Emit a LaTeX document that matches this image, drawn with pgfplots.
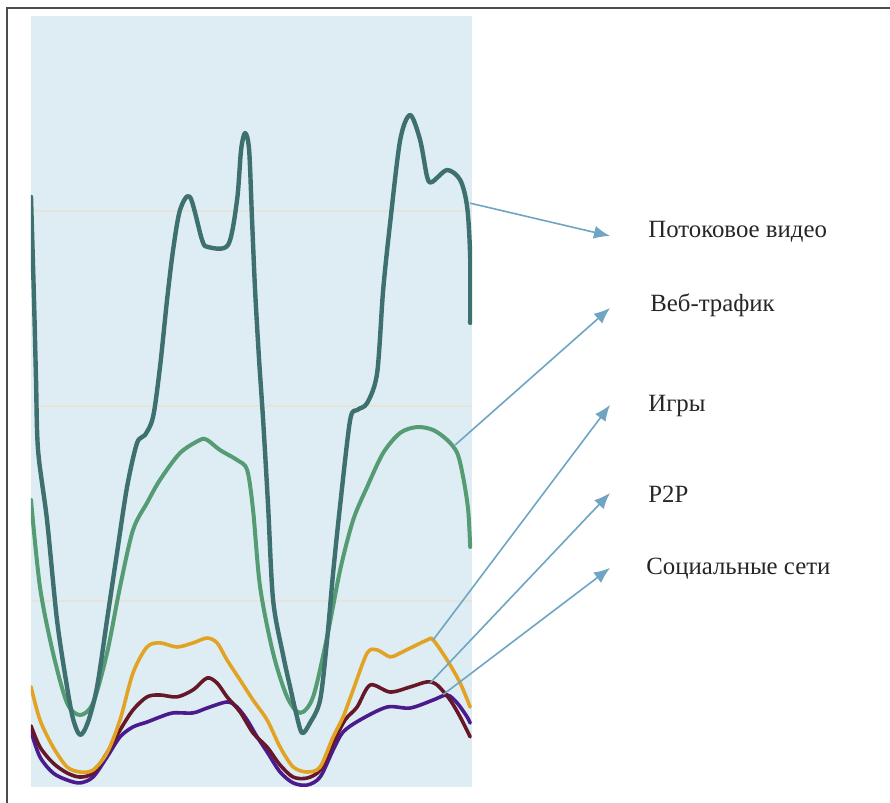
\documentclass[border=0pt]{standalone}
\usepackage{pgfplots}
\pgfplotsset{compat=1.18}
\usetikzlibrary{arrows.meta}
\usepackage{fontspec}
\setmainfont{Liberation Serif}
\definecolor{panel}{HTML}{DDEDF3}
\definecolor{gridc}{HTML}{E6E4DA}
\definecolor{cstream}{HTML}{3E7070}
\definecolor{cweb}{HTML}{559B74}
\definecolor{cgame}{HTML}{E2A324}
\definecolor{cp2p}{HTML}{661828}
\definecolor{csoc}{HTML}{4B1A8C}
\definecolor{carrow}{HTML}{6FA5C3}

\pgfplotstableread{
x y
0 30.72
0.33 25.44
0.55 21.33
0.77 17.74
1.75 14.15
2.84 9.03
3.94 5.59
4.60 3.95
5.36 3.13
6.20 3.75
7.22 5.59
8.31 9.03
9.40 12.46
10.50 15.85
11.59 18.10
12.46 18.51
13.34 19.44
14.10 22.0
14.87 25.44
15.53 28.0
16.29 30.05
17.38 30.72
18.70 28.51
19.35 28.15
21.54 28.26
22.52 30.56
22.96 33.13
23.40 34.0
23.84 33.13
24.16 29.54
24.49 25.95
24.93 22.36
25.37 19.28
25.91 14.92
26.46 10.05
27.55 7.23
28.32 5.59
28.97 4.25
29.63 3.23
30.50 3.75
31.60 4.92
32.36 8.0
33.02 11.44
33.79 14.92
34.88 19.28
35.64 19.79
36.74 20.15
37.83 21.69
38.49 25.95
39.25 29.38
40.35 33.64
41.44 34.92
42.53 33.64
43.30 31.74
43.84 31.49
45.48 32.10
46.91 31.59
47.67 30.21
48 27.64
48 24.26
}\streaming

\pgfplotstableread{
x y
0 15.18
0.98 10.72
2.41 7.33
3.94 4.77
5.36 4.15
6.78 4.77
8.31 7.33
9.73 10.72
11.15 13.64
12.68 15.03
14.10 16.21
16.29 17.59
18.48 18.26
19.24 18.26
20.66 17.74
22.52 17.23
23.62 16.72
24.27 14.67
25.04 10.72
26.46 7.33
27.99 5.08
29.41 4.26
30.83 5.08
32.36 8.15
33.79 11.59
35.21 14.15
36.74 15.85
38.49 17.59
40.35 18.62
42.20 18.92
43.95 18.77
45.48 18.26
46.58 17.59
47.23 16.36
47.78 14.67
48 12.77
}\web

\pgfplotstableread{
x y
0 5.6
0.98 3.90
2.41 2.51
3.94 1.49
5.36 1.23
6.78 1.33
8.31 2.21
9.73 3.90
11.15 6.31
12.68 7.64
14.10 7.85
15.96 7.64
17.71 7.85
19.24 8.10
20.34 7.85
21.43 6.97
22.85 5.95
24.27 4.92
25.80 3.90
27.22 2.51
28.65 1.49
30.18 1.23
31.60 1.49
33.02 3.03
34.11 4.05
35.21 5.44
36.74 7.33
37.83 7.49
39.25 7.13
40.35 7.33
43.30 8.0
43.95 8.0
45.48 6.97
46.91 5.79
48 4.56
}\games

\pgfplotstableread{
x y
0 3.6
0.98 2.51
2.41 1.69
3.94 1.18
5.36 0.97
6.78 1.18
8.31 2.21
9.73 3.38
11.15 4.41
12.68 5.08
14.10 5.18
15.96 5.08
17.71 5.44
19.24 6.05
20.34 5.79
21.43 5.08
22.85 4.31
24.27 3.23
25.80 2.51
27.22 1.59
28.65 0.97
30.18 0.92
31.60 1.33
33.02 2.72
34.33 3.90
35.64 4.56
37.07 5.69
39.25 5.33
41.44 5.59
43.30 5.85
44.39 5.69
45.81 4.92
46.91 4.05
48 3.03
}\ptop

\pgfplotstableread{
x y
0 3.3
0.98 2.0
2.41 1.18
3.94 0.82
5.36 0.67
6.78 0.97
8.31 2.0
9.73 3.03
11.15 3.54
12.68 3.79
14.10 4.05
15.53 4.26
17.71 4.26
19.24 4.51
21.43 4.82
22.52 4.56
23.62 3.90
24.71 3.03
25.80 2.26
27.22 1.23
28.65 0.67
30.18 0.56
31.60 0.97
33.02 2.36
34.11 3.28
35.97 3.90
38.92 4.56
41.44 4.51
43.95 4.92
45.48 5.18
46.58 4.77
47.67 4.05
48 3.74
}\social

\begin{document}
\begin{tikzpicture}
\useasboundingbox (0,0) rectangle (445pt,401.5pt);
\fill[white] (0,0) rectangle (445pt,401.5pt);
\begin{axis}[
  at={(15.5pt,8pt)}, anchor=south west,
  scale only axis, width=220.5pt, height=385.5pt,
  xmin=0, xmax=48.2, ymin=0.46, ymax=40,
  axis line style={draw=none},
  xtick=\empty, ytick={10,20,30}, yticklabels={},
  major tick length=0pt,
  ymajorgrids, grid style={gridc, line width=1pt},
  axis background/.style={fill=panel},
  every axis plot/.append style={smooth, no markers, line cap=round, line join=round},
]
\addplot[csoc, line width=1.8pt] table {\social};
\addplot[cp2p, line width=1.8pt] table {\ptop};
\addplot[cgame, line width=1.8pt] table {\games};
\addplot[cweb, line width=2pt] table {\web};
\addplot[cstream, line width=2.2pt] table {\streaming};
\coordinate (a1) at (axis cs:48,30.4);
\coordinate (a2) at (axis cs:46.36,18.0);
\coordinate (a3) at (axis cs:43.95,8.0);
\coordinate (a4) at (axis cs:43.63,5.8);
\coordinate (a5) at (axis cs:45.05,5.2);
\end{axis}
\begin{scope}[carrow, line width=0.8pt, -{Latex[length=8pt,width=6.5pt]}]
\draw (a1) -- (305pt,283.5pt);
\draw (a2) -- (305pt,247.5pt);
\draw (a3) -- (305pt,199pt);
\draw (a4) -- (305pt,155pt);
\draw (a5) -- (305pt,117.5pt);
\end{scope}
\begin{scope}[every node/.style={anchor=west, inner sep=0pt, text=black!85, font=\fontsize{12.4}{14}\selectfont}]
\node at (324pt,285.5pt) {Потоковое видео};
\node at (325pt,249pt) {Веб-трафик};
\node at (324pt,198.5pt) {Игры};
\node at (324pt,154.5pt) {P2P};
\node at (323pt,117pt) {Социальные сети};
\end{scope}
\draw[line width=1pt, black!70] (3.25pt,0) -- (3.25pt,397.5pt) -- (445pt,397.5pt);
\end{tikzpicture}
\end{document}
